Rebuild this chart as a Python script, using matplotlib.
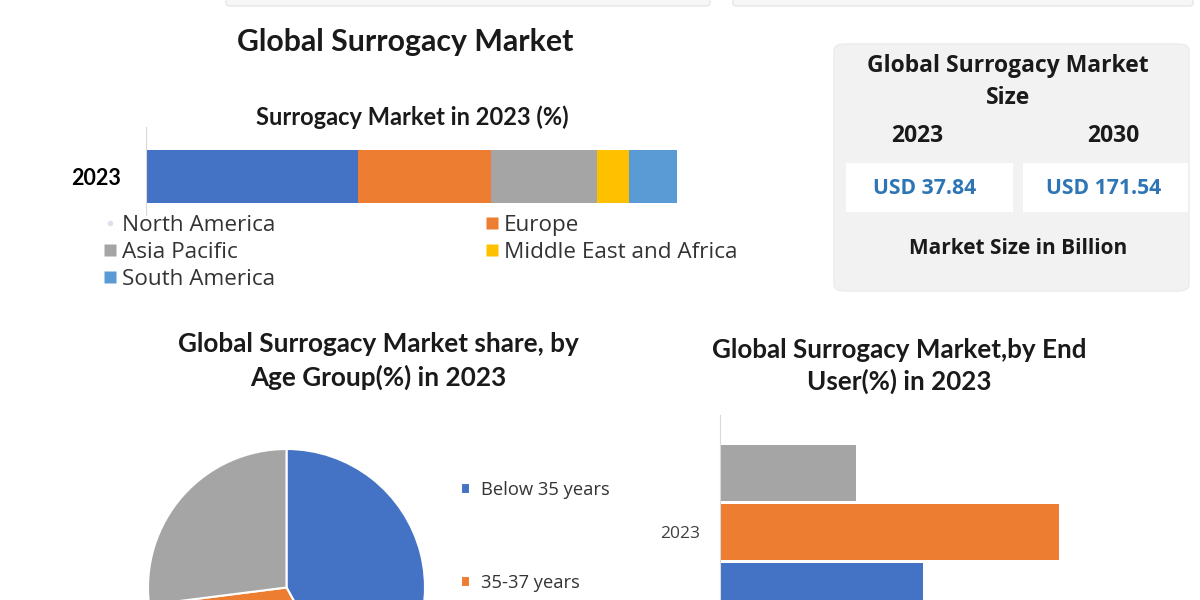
import matplotlib
matplotlib.use("Agg")
import matplotlib.pyplot as plt
from matplotlib.patches import FancyBboxPatch, Rectangle
from matplotlib.lines import Line2D

W, H = 1200, 600

# stacked bar: regional share 2023 (%)
regions = ["North America", "Europe", "Asia Pacific", "Middle East and Africa", "South America"]
region_share = [40, 25, 20, 6, 9]
region_colors = ["#4472c4", "#ed7d31", "#a5a5a5", "#ffc000", "#5b9bd5"]
region_marker_colors = ["#dde1ec", "#ed7d31", "#a5a5a5", "#ffc000", "#5b9bd5"]

# market size card
size_years = ["2023", "2030"]
size_values = ["USD 37.84", "USD 171.54"]

# pie: age group share 2023 (%)
age_groups = ["Below 35 years", "35-37 years", "Above 37 years"]
age_share = [42, 31, 27]
age_colors = ["#4472c4", "#ed7d31", "#a5a5a5"]

# horizontal bars: end user share 2023 (%)
end_user_year = ["2023"]
end_user_share = [30, 50, 20]          # bottom to top
end_user_colors = ["#4472c4", "#ed7d31", "#a5a5a5"]

TITLE_FONT = "Lato"
BODY_FONT = "Open Sans"


def px(x0, y0, x1, y1):
    # pixel box (top-left origin) -> figure rect
    return [x0 / W, 1 - y1 / H, (x1 - x0) / W, (y1 - y0) / H]


fig = plt.figure(figsize=(12, 6), dpi=100)
fig.patch.set_facecolor("white")

# faint boxes peeking from the top edge
for x0, x1 in [(226, 710), (733, 1193)]:
    fig.patches.append(FancyBboxPatch((x0 / W, 1 - 6 / H), (x1 - x0) / W, 20 / H,
                                      boxstyle="round,pad=0,rounding_size=0.004",
                                      transform=fig.transFigure, facecolor="#f7f7f7",
                                      edgecolor="#e6e6e6", linewidth=1.0))

# ---- top-left stacked bar ----
fig.text(405 / W, 1 - 42 / H, "Global Surrogacy Market", ha="center", va="center",
         fontsize=21.8, fontweight="bold", family=TITLE_FONT, color="#1a1a1a")
fig.text(412 / W, 1 - 117 / H, "Surrogacy Market in 2023 (%)", ha="center", va="center",
         fontsize=17, fontweight="bold", family=TITLE_FONT, color="#1a1a1a")

ax1 = fig.add_axes(px(146, 127, 677, 215))
left = 0
for val, col in zip(region_share, region_colors):
    ax1.barh([0], [val], left=left, height=0.6, color=col)
    left += val
ax1.set_xlim(0, sum(region_share))
ax1.set_ylim(-0.436, 0.564)
ax1.set_yticks([0])
ax1.set_yticklabels(["2023"], fontsize=15.5, fontweight="bold", family=TITLE_FONT)
ax1.tick_params(axis="y", length=0, pad=18)
ax1.set_xticks([])
for s in ["top", "right", "bottom"]:
    ax1.spines[s].set_visible(False)
ax1.spines["left"].set_color("#d9d9d9")
ax1.patch.set_alpha(0)

# legend, row-wise order -> column-wise for matplotlib
order = [0, 2, 4, 1, 3]
handles = [Line2D([], [], marker="s", linestyle="none", markersize=9,
                  markerfacecolor=region_marker_colors[i], markeredgecolor="none") for i in order]
handles[0] = Line2D([], [], marker="o", linestyle="none", markersize=4,
                    markerfacecolor=region_marker_colors[0], markeredgecolor="none")
labels = [regions[i] for i in order]
fig.legend(handles, labels, loc="upper left", bbox_to_anchor=(103 / W, 1 - 215 / H),
           ncol=2, frameon=False, prop={"family": BODY_FONT, "size": 16.2},
           handlelength=0.6, handletextpad=0.25, columnspacing=9.3, labelspacing=0.27,
           borderaxespad=0, borderpad=0, labelcolor="#333333")

# ---- market size card ----
fig.patches.append(FancyBboxPatch((834 / W, 1 - 291 / H), 355 / W, 247 / H,
                                  boxstyle="round,pad=0,rounding_size=0.01",
                                  transform=fig.transFigure, facecolor="#f2f2f2",
                                  edgecolor="#ececec", linewidth=1.0))
fig.text(1008 / W, 1 - 82 / H, "Global Surrogacy Market\nSize", ha="center", va="center",
         fontsize=16.5, fontweight="bold", family=BODY_FONT, color="#1a1a1a", linespacing=1.5)
for i, (yr, val) in enumerate(zip(size_years, size_values)):
    cx = [925, 1104][i]
    bx0, bx1 = [(846, 1013), (1023, 1188)][i]
    fig.text([917, 1113][i] / W, 1 - 136 / H, yr, ha="center", va="center",
             fontsize=16.5, fontweight="bold", family=BODY_FONT, color="#1a1a1a")
    fig.patches.append(Rectangle((bx0 / W, 1 - 212 / H), (bx1 - bx0) / W, 49 / H,
                                 transform=fig.transFigure, facecolor="white", edgecolor="none"))
    fig.text(cx / W, 1 - 188 / H, val, ha="center", va="center",
             fontsize=15.2, fontweight="bold", family=BODY_FONT, color="#2e75b6")
fig.text(1018 / W, 1 - 249 / H, "Market Size in Billion", ha="center", va="center",
         fontsize=15, fontweight="bold", family=BODY_FONT, color="#1a1a1a")

# ---- pie: age group ----
fig.text(378 / W, 1 - 361 / H, "Global Surrogacy Market share, by\nAge Group(%) in 2023",
         ha="center", va="center", fontsize=18.8, fontweight="bold", family=TITLE_FONT,
         color="#1a1a1a", linespacing=1.4)
ax2 = fig.add_axes(px(148, 449, 425, 726))
wedges, _ = ax2.pie(age_share, colors=age_colors, startangle=90, counterclock=False,
                    wedgeprops={"edgecolor": "white", "linewidth": 1.5})
ax2.set_xlim(-1, 1)
ax2.set_ylim(-1, 1)
ax2.set_aspect("equal")
# only the first two legend entries fit in the visible area
ax2.legend(wedges[:2], age_groups[:2], loc="upper left", bbox_to_anchor=(461 / W, 1 - 481 / H),
           bbox_transform=fig.transFigure, frameon=False,
           prop={"family": BODY_FONT, "size": 13.2}, labelcolor="#333333",
           handlelength=0.5, handleheight=0.5, handletextpad=0.6, labelspacing=4.1,
           borderaxespad=0, borderpad=0)

# ---- horizontal bars: end user ----
fig.text(899 / W, 1 - 366 / H, "Global Surrogacy Market,by End\nUser(%) in 2023",
         ha="center", va="center", fontsize=18.7, fontweight="bold", family=TITLE_FONT,
         color="#1a1a1a", linespacing=1.35)
ax3 = fig.add_axes(px(720, 415, 1190, 700))
n = len(end_user_share)
step = 0.2
for i, (val, col) in enumerate(zip(end_user_share, end_user_colors)):
    ax3.barh([(i - (n - 1) / 2) * step], [val], height=0.19, color=col)
ax3.set_xlim(0, 69.3)
ax3.set_ylim(-0.569, 0.397)
ax3.set_yticks([0])
ax3.set_yticklabels(end_user_year, fontsize=12.5, family=BODY_FONT, color="#404040")
ax3.tick_params(axis="y", length=0, pad=14)
ax3.set_xticks([])
for s in ["top", "right", "bottom"]:
    ax3.spines[s].set_visible(False)
ax3.spines["left"].set_color("#d9d9d9")
ax3.patch.set_alpha(0)

fig.savefig("out.png", dpi=100)
